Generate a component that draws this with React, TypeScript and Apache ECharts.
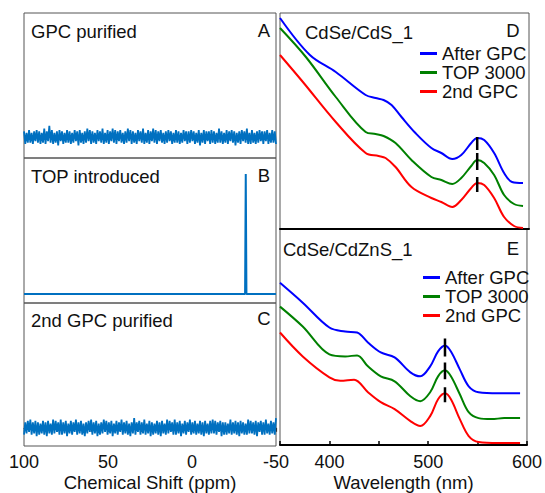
import React, { useEffect, useRef } from "react";
import * as echarts from "echarts";

const FONT = "'Liberation Sans', Arial, Helvetica, sans-serif";
const NMR_COLOR = "#0070C0";
const SERIES_NAMES = ["After GPC", "TOP 3000", "2nd GPC"];
const SERIES_COLORS = ["#0000FF", "#008000", "#FF0000"];

// NMR panel titles / letters
const NMR_TITLES = ["GPC purified", "TOP introduced", "2nd GPC purified"];
const NMR_LETTERS = ["A", "B", "C"];
const UV_TITLES = ["CdSe/CdS_1", "CdSe/CdZnS_1"];
const UV_LETTERS = ["D", "E"];

// 31P NMR: ppm range and noise (hand-read amplitude, arbitrary units)
const PPM_MIN = -50;
const PPM_MAX = 100;
const NOISE_A = [
  4, -5, 3, -4, 5, -4, 3, -5, 4, -3,
  5, -4, 4, -5, 3, -4, 6, -5, 4, -3,
  8, -4, 5, -5, 3, -4, 4, -6, 5, -3,
  4, -5, 3, -4, 5, -4, 4, -5, 3, -4,
  5, -3, 4, -6, 5, -4, 3, -5, 4, -4,
  6, -3, 5, -5, 4, -4, 3, -5, 5, -3,
  4, -4, 6, -5, 3, -4, 5, -5, 4, -3,
  6, -4, 5, -5, 4, -3, 5, -4, 3, -5,
  4, -4, 6, -3, 5, -5, 4, -4, 3, -5,
  5, -3, 4, -4, 6, -5, 3, -4, 5, -5,
  4, -3, 6, -4, 5, -5, 4, -3, 5, -4,
  3, -5, 4, -4, 5, -3, 4, -5, 3, -4,
  5, -4, 4, -5, 3, -4, 5, -3, 4, -5,
  4, -4, 5, -3, 4, -5, 3, -4, 5, -6,
  3, -4, 5, -5, 4, -3, 4, -5, 5, -4,
  4, -5, 3, -4, 6, -4, 4, -5, 3, -4,
  5, -5, 4, -3, 5, -4, 4, -6, 3, -4,
  4, -5, 5, -3, 4, -4, 6, -5, 3, -5,
  5, -4, 3, -5, 4, -4, 5, -3, 4, -5,
  4, -3, 5, -5, 3, -4, 5, -4, 4, -5,
];
const NOISE_C = [
  -5, 4, -4, 5, -3, 6, -5, 4, -4, 5,
  -6, 4, -5, 3, -4, 5, -5, 4, -6, 5,
  -4, 3, -5, 6, -4, 5, -3, 4, -5, 6,
  -5, 4, -4, 5, -6, 3, -4, 5, -5, 4,
  -3, 6, -5, 4, -4, 5, -5, 3, -6, 4,
  -4, 5, -3, 6, -5, 4, -4, 5, -6, 3,
  -5, 4, -4, 6, -3, 5, -5, 4, -4, 5,
  -6, 3, -4, 5, -5, 4, -3, 6, -5, 4,
  -4, 5, -5, 3, -6, 4, -4, 7, -5, 4,
  -3, 5, -5, 4, -4, 6, -5, 3, -4, 5,
  -6, 4, -5, 3, -4, 5, -5, 4, -6, 5,
  -4, 3, -5, 6, -4, 5, -3, 4, -5, 6,
  -5, 4, -4, 5, -6, 3, -4, 5, -5, 4,
  -3, 6, -5, 4, -4, 5, -5, 3, -4, 5,
  -5, 4, -6, 5, -4, 3, -5, 5, -4, 6,
  -4, 5, -5, 4, -3, 5, -6, 4, -5, 4,
  -5, 3, -4, 6, -5, 4, -4, 5, -5, 4,
  -6, 5, -4, 4, -5, 3, -5, 6, -4, 5,
  -4, 4, -5, 5, -6, 4, -3, 5, -5, 4,
  -5, 6, -4, 3, -5, 5, -4, 4, -5, 7,
];
// TOP introduced: flat baseline with one sharp peak near -32 ppm
const TOP_PPM = [100, -31.6, -32, -32.4, -50];
const TOP_VAL = [0, 0, 120, 0, 0];

// UV-vis, panel D (CdSe/CdS_1)
const D_BLUE_NM = [350, 380, 406, 436, 446, 454, 462, 472, 486, 502, 512, 523, 532, 542, 548, 555, 565, 575, 583, 594];
const D_BLUE = [2.11, 1.74, 1.57, 1.34, 1.31, 1.29, 1.24, 1.12, 0.96, 0.81, 0.76, 0.7, 0.74, 0.86, 0.91, 0.89, 0.76, 0.56, 0.47, 0.46];
const D_GREEN_NM = [350, 376, 406, 436, 446, 454, 466, 482, 502, 512, 523, 532, 542, 548, 555, 565, 575, 585, 594];
const D_GREEN = [2.01, 1.72, 1.32, 0.97, 0.95, 0.93, 0.86, 0.69, 0.52, 0.49, 0.45, 0.51, 0.63, 0.69, 0.66, 0.54, 0.34, 0.25, 0.23];
const D_RED_NM = [350, 373, 406, 436, 449, 456, 466, 482, 502, 512, 523, 532, 542, 548, 555, 565, 575, 585, 594];
const D_RED = [1.74, 1.47, 1.07, 0.76, 0.73, 0.71, 0.62, 0.42, 0.31, 0.27, 0.22, 0.29, 0.41, 0.46, 0.44, 0.31, 0.12, 0.03, 0.01];
const D_PEAK_NM = 548;
const D_DASHES = [[0.92, 0.79], [0.76, 0.59], [0.52, 0.37]];

// UV-vis, panel E (CdSe/CdZnS_1)
const E_BLUE_NM = [350, 373, 400, 416, 428, 439, 452, 466, 482, 492, 502, 510, 517, 523, 532, 541, 551, 571, 593];
const E_BLUE = [1.63, 1.43, 1.18, 1.14, 1.13, 1.03, 0.93, 0.88, 0.73, 0.69, 0.79, 0.94, 1.0, 0.94, 0.76, 0.59, 0.53, 0.52, 0.52];
const E_GREEN_NM = [350, 373, 400, 416, 428, 439, 452, 466, 482, 492, 502, 510, 517, 523, 532, 541, 551, 564, 577, 593];
const E_GREEN = [1.39, 1.19, 0.91, 0.89, 0.9, 0.79, 0.69, 0.64, 0.49, 0.44, 0.53, 0.69, 0.75, 0.69, 0.51, 0.33, 0.27, 0.26, 0.27, 0.27];
const E_RED_NM = [350, 373, 400, 411, 425, 439, 452, 466, 482, 492, 502, 510, 517, 523, 532, 541, 551, 571, 593];
const E_RED = [1.13, 0.89, 0.68, 0.645, 0.655, 0.53, 0.43, 0.36, 0.24, 0.19, 0.29, 0.46, 0.52, 0.46, 0.26, 0.09, 0.03, 0.02, 0.02];
const E_PEAK_NM = 517;
const E_DASHES = [[1.07, 0.89], [0.83, 0.66], [0.58, 0.43]];

const NM_MIN = 350;
const NM_MAX = 600;

function noisePairs(noise: number[]) {
  const n = noise.length;
  return noise.map((v, i) => [PPM_MAX - (i * (PPM_MAX - PPM_MIN)) / (n - 1), v]);
}
function zip(xs: number[], ys: number[]) {
  return xs.map((x, i) => [x, ys[i]]);
}

export default function App() {
  const ref = useRef<HTMLDivElement>(null);
  useEffect(() => {
    if (!ref.current) return;
    const chart = echarts.init(ref.current, undefined, { renderer: "svg" });

    const gridBase = { show: true, borderColor: "#555", borderWidth: 1, backgroundColor: "transparent" };
    const grids = [
      { ...gridBase, left: 24, top: 13, width: 252, height: 145 },
      { ...gridBase, left: 24, top: 158, width: 252, height: 145 },
      { ...gridBase, left: 24, top: 303, width: 252, height: 145 },
      { ...gridBase, left: 280, top: 13, width: 249, height: 216 },
      { ...gridBase, left: 280, top: 229, width: 249, height: 217 },
    ];

    const hiddenNmrX = (gi: number) => ({
      type: "value",
      gridIndex: gi,
      min: PPM_MIN,
      max: PPM_MAX,
      inverse: true,
      axisLine: { show: false },
      axisTick: { show: false },
      axisLabel: { show: false },
      splitLine: { show: false },
    });

    const xAxes: any[] = [
      hiddenNmrX(0),
      hiddenNmrX(1),
      {
        type: "value",
        gridIndex: 2,
        min: PPM_MIN,
        max: PPM_MAX,
        interval: 50,
        inverse: true,
        name: "Chemical Shift (ppm)",
        nameLocation: "middle",
        nameGap: 27,
        nameTextStyle: { fontSize: 18.5, fontFamily: FONT, color: "#111" },
        axisLine: { show: true, lineStyle: { color: "#444", width: 1 } },
        axisTick: { show: true, inside: false, length: 4, lineStyle: { color: "#333", width: 1.2 } },
        minorTick: { show: true, splitNumber: 5, length: 4, lineStyle: { color: "#333", width: 1.2 } },
        axisLabel: { show: true, margin: 7, fontSize: 18, fontFamily: FONT, color: "#111" },
        splitLine: { show: false },
      },
      {
        type: "value",
        gridIndex: 3,
        min: NM_MIN,
        max: NM_MAX,
        interval: 50,
        axisLine: { show: true, lineStyle: { color: "#000", width: 2 } },
        axisTick: { show: false },
        axisLabel: { show: false },
        splitLine: { show: false },
      },
      {
        type: "value",
        gridIndex: 4,
        min: NM_MIN,
        max: NM_MAX,
        interval: 50,
        name: "Wavelength (nm)",
        nameLocation: "middle",
        nameGap: 28,
        nameTextStyle: { fontSize: 18.5, fontFamily: FONT, color: "#111" },
        axisLine: { show: true, lineStyle: { color: "#000", width: 2 } },
        axisTick: { show: true, inside: true, length: 4, lineStyle: { color: "#000", width: 1.5 } },
        axisLabel: {
          show: true,
          margin: 8,
          fontSize: 18,
          fontFamily: FONT,
          color: "#111",
          formatter: (v: number) => (v % 100 === 0 && v > NM_MIN ? String(v) : ""),
        },
        splitLine: { show: false },
      },
    ];

    const yRanges = [
      [-15, 88.6],
      [-9, 136],
      [-13.2, 90.4],
      [0, 2.16],
      [0, 2.17],
    ];
    const yAxes = yRanges.map((r, gi) => ({
      type: "value",
      gridIndex: gi,
      min: r[0],
      max: r[1],
      show: false,
      splitLine: { show: false },
    }));

    const nmrSeries = (gi: number, data: number[][], width: number) => ({
      type: "line",
      name: "nmr" + gi,
      xAxisIndex: gi,
      yAxisIndex: gi,
      data,
      symbol: "none",
      lineStyle: { color: NMR_COLOR, width },
      itemStyle: { color: NMR_COLOR },
      silent: true,
    });

    const uvSeries = (gi: number, idx: number, xs: number[], ys: number[]) => ({
      type: "line",
      name: SERIES_NAMES[idx],
      xAxisIndex: gi,
      yAxisIndex: gi,
      data: zip(xs, ys),
      symbol: "none",
      smooth: 0.35,
      lineStyle: { color: SERIES_COLORS[idx], width: 2 },
      itemStyle: { color: SERIES_COLORS[idx] },
    });

    const dashSeries = (gi: number, nm: number, dashes: number[][]) =>
      dashes.map((d, k) => ({
        type: "line",
        name: "peak" + gi + "_" + k,
        xAxisIndex: gi,
        yAxisIndex: gi,
        data: [
          [nm, d[0]],
          [nm, d[1]],
        ],
        symbol: "none",
        lineStyle: { color: "#000", width: 2.5 },
        z: 5,
        silent: true,
      }));

    const series: any[] = [
      nmrSeries(0, noisePairs(NOISE_A), 1.8),
      nmrSeries(1, zip(TOP_PPM, TOP_VAL), 2),
      nmrSeries(2, noisePairs(NOISE_C), 1.8),
      uvSeries(3, 0, D_BLUE_NM, D_BLUE),
      uvSeries(3, 1, D_GREEN_NM, D_GREEN),
      uvSeries(3, 2, D_RED_NM, D_RED),
      uvSeries(4, 0, E_BLUE_NM, E_BLUE),
      uvSeries(4, 1, E_GREEN_NM, E_GREEN),
      uvSeries(4, 2, E_RED_NM, E_RED),
      ...dashSeries(3, D_PEAK_NM, D_DASHES),
      ...dashSeries(4, E_PEAK_NM, E_DASHES),
    ];

    const legendBase = {
      orient: "vertical",
      data: SERIES_NAMES,
      icon: "rect",
      itemWidth: 17,
      itemHeight: 3,
      itemGap: 0,
      padding: 0,
      selectedMode: false,
      textStyle: { fontSize: 18.5, fontFamily: FONT, color: "#111", lineHeight: 19 },
    };

    const txt = (text: string, x: number, y: number, align: string) => ({
      type: "text",
      x,
      y,
      style: { text, fontSize: 18.5, fontFamily: FONT, fill: "#111", align, verticalAlign: "middle" },
      silent: true,
    });

    const graphic = [
      txt(NMR_TITLES[0], 31, 31, "left"),
      txt(NMR_LETTERS[0], 264, 30, "center"),
      txt(NMR_TITLES[1], 31, 176, "left"),
      txt(NMR_LETTERS[1], 264, 175, "center"),
      txt(NMR_TITLES[2], 31, 320, "left"),
      txt(NMR_LETTERS[2], 264, 318, "center"),
      txt(UV_TITLES[0], 305, 32, "left"),
      txt(UV_LETTERS[0], 513, 30, "center"),
      txt(UV_TITLES[1], 283, 249, "left"),
      txt(UV_LETTERS[1], 513, 248, "center"),
    ];

    chart.setOption({
      animation: false,
      backgroundColor: "#fff",
      textStyle: { fontFamily: FONT },
      grid: grids,
      xAxis: xAxes,
      yAxis: yAxes,
      legend: [
        { ...legendBase, left: 420, top: 44 },
        { ...legendBase, left: 423, top: 268 },
      ],
      graphic,
      series,
    });
    return () => chart.dispose();
  }, []);
  return (
    <div
      ref={ref}
      style={{ position: "absolute", left: 0, top: 0, width: 545, height: 493, background: "#fff" }}
    />
  );
}
